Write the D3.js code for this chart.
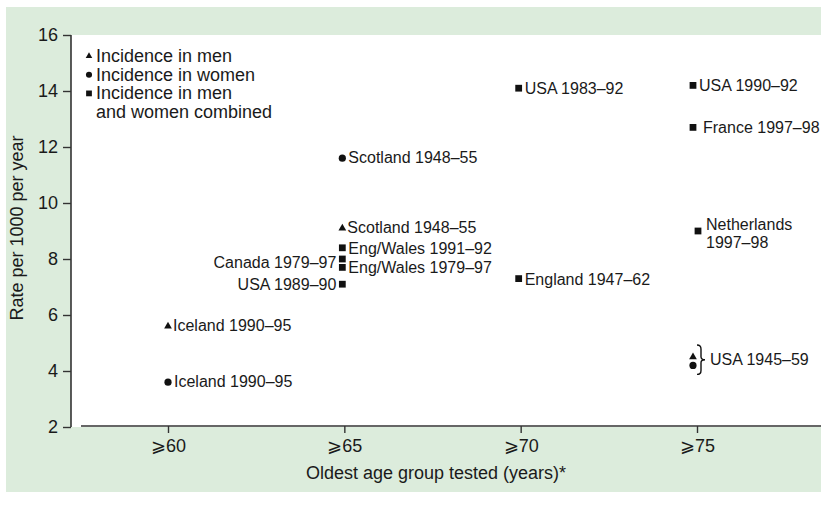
<!DOCTYPE html>
<html>
 <head>
  <meta charset="UTF-8">
  <title>Incidence by oldest age group</title>
  <style>
    body { margin: 0; background: #fff; }
    text { font-family: "Liberation Sans", Arial, sans-serif; fill: #1a1a1a; }
  </style>
 </head>
 <body>
<div id="viz-wrapper"></div>
 <script src="https://cdn.jsdelivr.net/npm/d3@7/dist/d3.min.js"></script>
 <script type="text/javascript">
    // svg size
    var width = 821,
        height = 507;

    // data
    var categories = ["⩾60", "⩾65", "⩾70", "⩾75"];
    var yTicks = [2, 4, 6, 8, 10, 12, 14, 16];

    var menAge   = ["⩾60", "⩾65", "⩾75"];
    var menRate  = [5.6, 9.1, 4.5];
    var menLabel = ["Iceland 1990–95", "Scotland 1948–55", ""];

    var womenAge   = ["⩾60", "⩾65", "⩾75"];
    var womenRate  = [3.6, 11.6, 4.2];
    var womenLabel = ["Iceland 1990–95", "Scotland 1948–55", ""];

    var bothAge   = ["⩾65", "⩾65", "⩾65", "⩾65", "⩾70", "⩾70", "⩾75", "⩾75", "⩾75"];
    var bothRate  = [8.4, 8.0, 7.7, 7.1, 14.1, 7.3, 14.2, 12.7, 9.0];
    var bothLabel = ["Eng/Wales 1991–92", "Canada 1979–97", "Eng/Wales 1979–97", "USA 1989–90",
                     "USA 1983–92", "England 1947–62", "USA 1990–92", "France 1997–98",
                     "Netherlands|1997–98"];

    var legendItems = ["Incidence in men", "Incidence in women", "Incidence in men|and women combined"];
    var xTitle = "Oldest age group tested (years)*";
    var yTitle = "Rate per 1000 per year";
    var bracketLabel = "USA 1945–59";

    // label nudges: [dx, dy, anchor]
    var bothNudge = [[6, 1, "start"], [-6, 4, "end"], [6, 1, "start"], [-6, 1, "end"],
                     [6, 1, "start"], [6, 1, "start"], [6, 1, "start"], [10, 1, "start"],
                     [8, -6, "start"]];

    var svg = d3.select("#viz-wrapper")
                .append("svg")
                .attr("width", width)
                .attr("height", height);

    // green panel and white plot area
    svg.append("rect").attr("x", 6).attr("y", 7).attr("width", width - 6).attr("height", 485)
       .style("fill", "#dcecdc");
    svg.append("rect").attr("x", 71).attr("y", 35).attr("width", width - 71).attr("height", 392)
       .style("fill", "#fff");

    var x = d3.scalePoint().domain(categories).range([168, 697]);
    var y = d3.scaleLinear().domain([2, 16]).range([427, 35]);

    // markers sit a touch left of the tick in the original
    function mx(a) { return x(a) - (a === "⩾60" ? 0 : a === "⩾75" ? 4 : 2); }

    // y axis
    var yAxis = svg.append("g").attr("transform", "translate(71,0)")
                   .call(d3.axisLeft(y).tickValues(yTicks).tickSize(8).tickPadding(5));
    yAxis.select(".domain").attr("d", "M0,35V427").style("stroke", "#333").style("stroke-width", 1.6);
    yAxis.selectAll(".tick line").style("stroke", "#333").style("stroke-width", 1.4);
    yAxis.selectAll(".tick text").style("font-size", "18px")
         .style("font-family", "Liberation Sans, Arial, sans-serif").style("fill", "#1a1a1a");

    // x axis
    var xAxis = svg.append("g").attr("transform", "translate(0,426)")
                   .call(d3.axisBottom(x).tickSize(7).tickPadding(6));
    xAxis.select(".domain").attr("d", "M81,0H" + width).style("stroke", "#333").style("stroke-width", 1.6);
    xAxis.selectAll(".tick line").style("stroke", "#333").style("stroke-width", 1.4);
    xAxis.selectAll(".tick text").style("font-size", "18px")
         .style("font-family", "Liberation Sans, Arial, sans-serif").style("fill", "#1a1a1a");

    // axis titles
    svg.append("text").attr("x", 436).attr("y", 479).attr("text-anchor", "middle")
       .style("font-size", "18px").text(xTitle);
    svg.append("text").attr("transform", "translate(23,228) rotate(-90)").attr("text-anchor", "middle")
       .style("font-size", "18px").text(yTitle);

    var tri = d3.symbol().type(d3.symbolTriangle).size(26);
    var sq = d3.symbol().type(d3.symbolSquare).size(46);

    function drawMarker(g, kind, cx, cy, scale) {
        var k = scale || 1;
        if (kind === "circle") {
            g.append("circle").attr("cx", cx).attr("cy", cy).attr("r", 3.6 * k).style("fill", "#111");
        } else {
            g.append("path").attr("d", kind === "tri" ? tri() : sq())
             .attr("transform", "translate(" + cx + "," + cy + ") scale(" + k + ")").style("fill", "#111");
        }
    }

    function drawLabel(txt, px, py, dx, dy, anchor) {
        var lines = txt.split("|");
        var t = svg.append("text")
                   .attr("text-anchor", anchor)
                   .style("font-size", "16px");
        lines.forEach(function(l, i) {
            t.append("tspan").attr("x", px + dx).attr("y", py + dy + 5 + i * 18).text(l);
        });
    }

    var marks = svg.append("g");

    // men
    menAge.forEach(function(a, i) {
        drawMarker(marks, "tri", mx(a), y(menRate[i]));
        if (menLabel[i]) drawLabel(menLabel[i], mx(a), y(menRate[i]), 5, 0, "start");
    });
    // women
    womenAge.forEach(function(a, i) {
        drawMarker(marks, "circle", mx(a), y(womenRate[i]));
        if (womenLabel[i]) drawLabel(womenLabel[i], mx(a), y(womenRate[i]), 6, 0, "start");
    });
    // men and women combined
    bothAge.forEach(function(a, i) {
        var n = bothNudge[i];
        var px = i === 8 ? x(a) + 1 : mx(a);
        drawMarker(marks, "sq", px, y(bothRate[i]));
        drawLabel(bothLabel[i], px, y(bothRate[i]), n[0], n[1], n[2]);
    });

    // bracket for USA 1945-59
    var bTop = y(menRate[2]) - 12, bBot = y(womenRate[2]) + 9, bx = mx("⩾75") + 4;
    var bMid = (bTop + bBot) / 2;
    svg.append("path")
       .attr("d", "M" + bx + "," + bTop + "q4,0 4,4 V" + (bMid - 3) + "q0,3 4,3 q-4,0 -4,3 V" + (bBot - 4) + "q0,4 -4,4")
       .style("fill", "none").style("stroke", "#111").style("stroke-width", 1.4);
    svg.append("text").attr("x", bx + 13).attr("y", bMid + 5).style("font-size", "16px").text(bracketLabel);

    // legend
    var legendKinds = ["tri", "circle", "sq"];
    legendItems.forEach(function(l, i) {
        var ly = 56 + i * 18.7;
        drawMarker(svg, legendKinds[i], 89, ly, 0.85);
        var t = svg.append("text").style("font-size", "18px");
        l.split("|").forEach(function(part, j) {
            t.append("tspan").attr("x", 96).attr("y", ly + 6 + j * 19).text(part);
        });
    });
 </script>
 </body>
</html>
